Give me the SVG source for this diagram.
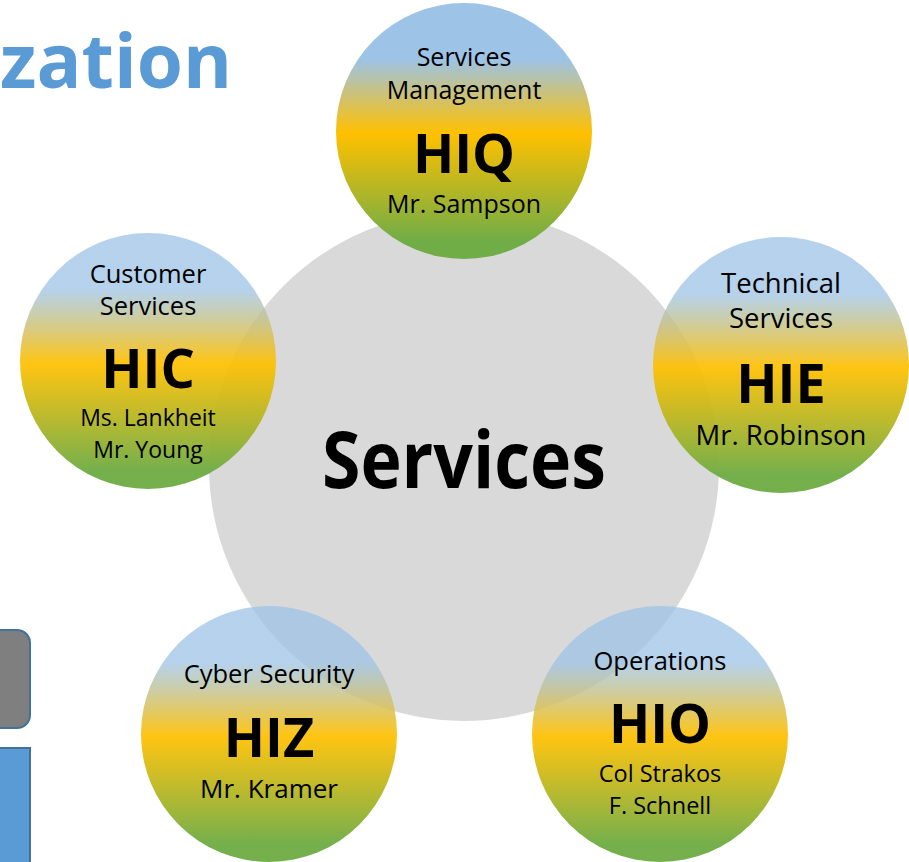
<svg xmlns="http://www.w3.org/2000/svg" width="909" height="862" viewBox="0 0 909 862">
  <defs>
    <linearGradient id="ball" x1="0" y1="0" x2="0" y2="1">
      <stop offset="0" stop-color="#9dc3e6"/>
      <stop offset="0.22" stop-color="#9dc3e6"/>
      <stop offset="0.51" stop-color="#ffc000"/>
      <stop offset="0.93" stop-color="#70ad47"/>
      <stop offset="1" stop-color="#70ad47"/>
    </linearGradient>
    <linearGradient id="ballT" x1="0" y1="0" x2="0" y2="1">
      <stop offset="0" stop-color="#9dc3e6" stop-opacity="0.75"/>
      <stop offset="0.22" stop-color="#9dc3e6" stop-opacity="0.75"/>
      <stop offset="0.51" stop-color="#ffc000" stop-opacity="0.93"/>
      <stop offset="0.93" stop-color="#70ad47" stop-opacity="0.97"/>
      <stop offset="1" stop-color="#70ad47" stop-opacity="0.97"/>
    </linearGradient>
  </defs>
  <style>
    .lbl { font-family: "Open Sans", "Liberation Sans", sans-serif; font-size: 25px; fill: #000; text-anchor: middle; }
    .code { font-family: "Open Sans", "Liberation Sans", sans-serif; font-size: 54px; font-weight: bold; fill: #000; text-anchor: middle; }
    .ball { fill: url(#ball); }
    .tr { fill: url(#ballT); }
  </style>
  <rect width="909" height="862" fill="#ffffff"/>

  <g id="title">
    <text x="0" y="88" font-family="Open Sans, Liberation Sans, sans-serif" font-size="75" font-weight="bold" fill="#5b9bd5" textLength="232" lengthAdjust="spacingAndGlyphs">zation</text>
  </g>

  <g id="side-boxes">
    <rect x="-20" y="630" width="50" height="98" rx="13" fill="#7f7f7f" stroke="#41719c" stroke-width="2"/>
    <rect x="-20" y="748" width="50" height="130" fill="#5b9bd5" stroke="#41719c" stroke-width="2"/>
  </g>

  <g id="center">
    <circle cx="464" cy="466" r="255" fill="#d9d9d9"/>
    <text x="464" y="488" font-family="Open Sans, Liberation Sans, sans-serif" font-size="78" font-weight="bold" fill="#000" text-anchor="middle" textLength="284" lengthAdjust="spacingAndGlyphs">Services</text>
  </g>

  <g id="HIQ">
    <circle cx="464" cy="131" r="128" class="ball"/>
    <text x="464" y="66" class="lbl">Services</text>
    <text x="464" y="99" class="lbl">Management</text>
    <text x="464" y="173" class="code">HIQ</text>
    <text x="464" y="213" class="lbl">Mr. Sampson</text>
  </g>

  <g id="HIE">
    <circle cx="781" cy="365" r="128" class="tr"/>
    <text x="781" y="293" class="lbl" style="font-size:27.5px">Technical</text>
    <text x="781" y="328" class="lbl" style="font-size:27.5px">Services</text>
    <text x="781" y="403" class="code">HIE</text>
    <text x="781" y="445" class="lbl" style="font-size:27.5px">Mr. Robinson</text>
  </g>

  <g id="HIO">
    <circle cx="660" cy="734" r="128" class="tr"/>
    <text x="660" y="670" class="lbl" style="font-size:25.5px">Operations</text>
    <text x="660" y="743" class="code">HIO</text>
    <text x="660" y="782" class="lbl" style="font-size:23.5px">Col Strakos</text>
    <text x="660" y="814" class="lbl" style="font-size:23.5px">F. Schnell</text>
  </g>

  <g id="HIZ">
    <circle cx="269" cy="734" r="128" class="tr"/>
    <text x="269" y="683" class="lbl" style="font-size:25.5px">Cyber Security</text>
    <text x="269" y="757" class="code">HIZ</text>
    <text x="269" y="798" class="lbl" style="font-size:26px">Mr. Kramer</text>
  </g>

  <g id="HIC">
    <circle cx="148" cy="361" r="128" class="tr"/>
    <text x="148" y="283" class="lbl" style="font-size:25.5px">Customer</text>
    <text x="148" y="315" class="lbl" style="font-size:25.5px">Services</text>
    <text x="148" y="388" class="code">HIC</text>
    <text x="148" y="426" class="lbl" style="font-size:23px">Ms. Lankheit</text>
    <text x="148" y="458" class="lbl" style="font-size:23px">Mr. Young</text>
  </g>
</svg>
